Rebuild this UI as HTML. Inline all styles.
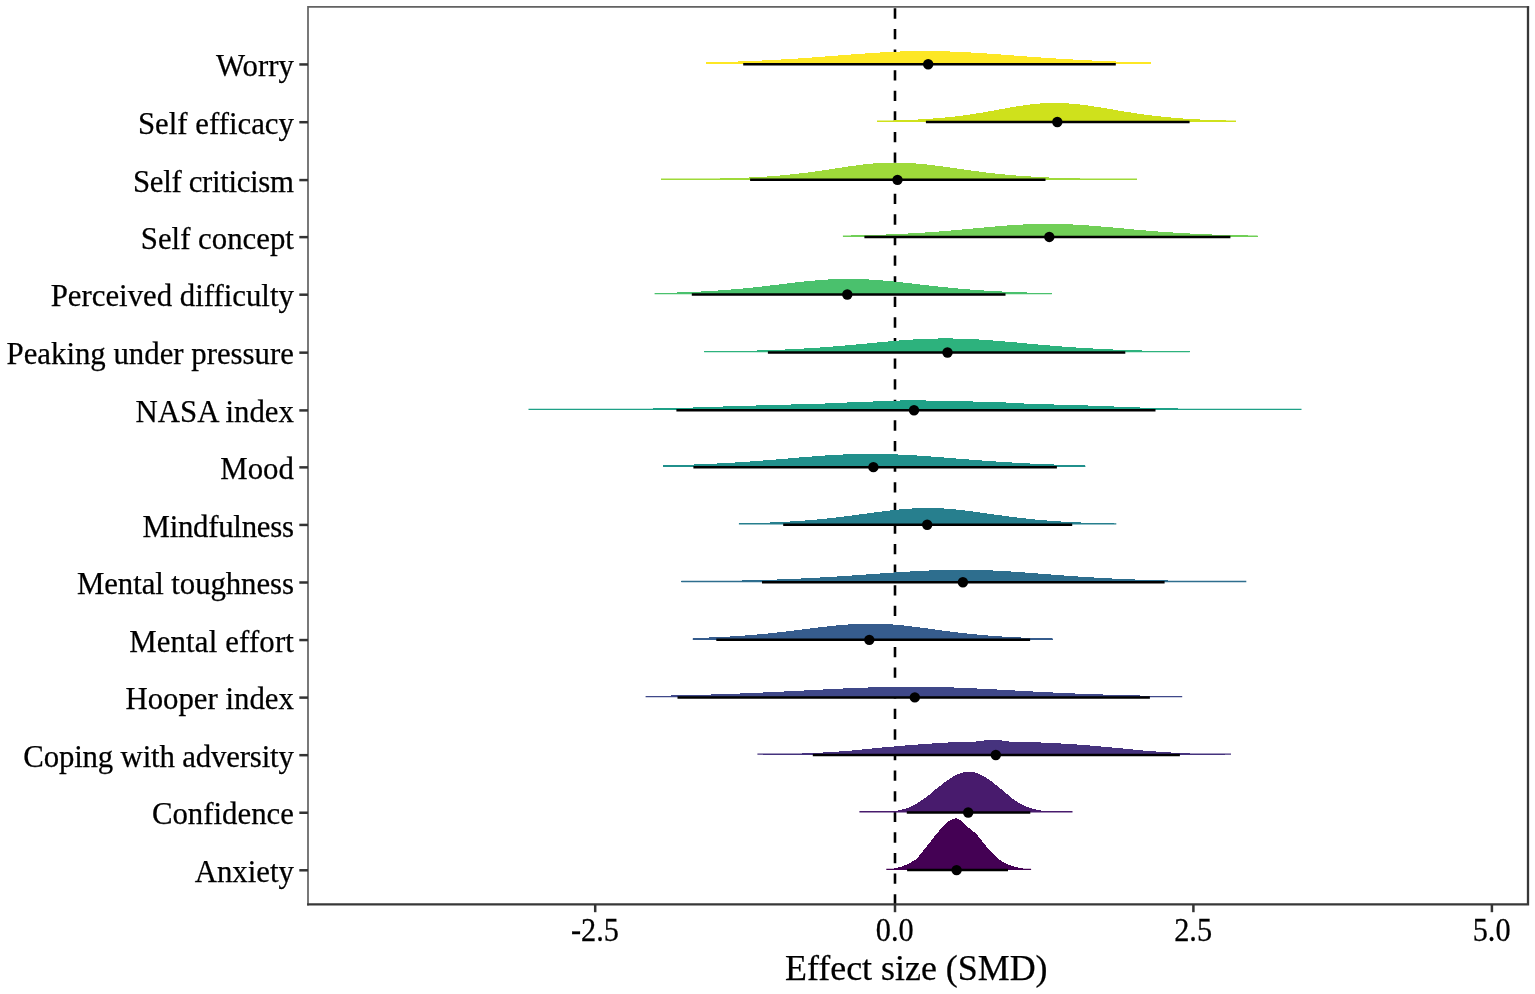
<!DOCTYPE html>
<html lang="en"><head><meta charset="utf-8"><title>Effect size (SMD)</title>
<style>html,body{margin:0;padding:0;background:#fff}body{width:1535px;height:994px;overflow:hidden}svg text{font-family:"Liberation Serif",serif}</style></head>
<body>
<svg width="1535" height="994" viewBox="0 0 1535 994" style="display:block">
<rect width="1535" height="994" fill="#fff"/>
<line x1="895.0" y1="904.45" x2="895.0" y2="6.95" stroke="#000" stroke-width="2.6" stroke-dasharray="10.3,10.3"/>
<g>
<path d="M706.3,63.95L706.3,62.43L708.3,62.39L710.3,62.34L712.3,62.29L714.3,62.24L716.3,62.19L718.3,62.13L720.3,62.08L722.3,62.02L724.3,61.96L726.3,61.90L728.3,61.84L730.3,61.78L732.3,61.71L734.3,61.65L736.3,61.58L738.4,61.51L740.4,61.43L742.4,61.36L744.4,61.28L746.4,61.21L748.4,61.13L750.4,61.04L752.4,60.96L754.4,60.87L756.4,60.79L758.4,60.70L760.4,60.60L762.4,60.51L764.4,60.41L766.4,60.31L768.4,60.21L770.4,60.11L772.4,60.01L774.4,59.90L776.4,59.79L778.4,59.68L780.4,59.56L782.4,59.45L784.4,59.33L786.4,59.21L788.4,59.09L790.4,58.96L792.4,58.83L794.4,58.71L796.4,58.58L798.4,58.44L800.4,58.31L802.5,58.17L804.5,58.03L806.5,57.89L808.5,57.75L810.5,57.61L812.5,57.46L814.5,57.32L816.5,57.17L818.5,57.02L820.5,56.87L822.5,56.72L824.5,56.56L826.5,56.41L828.5,56.26L830.5,56.10L832.5,55.94L834.5,55.79L836.5,55.63L838.5,55.48L840.5,55.32L842.5,55.16L844.5,55.01L846.5,54.85L848.5,54.70L850.5,54.54L852.5,54.39L854.5,54.24L856.5,54.09L858.5,53.94L860.5,53.79L862.5,53.64L864.5,53.50L866.6,53.36L868.6,53.22L870.6,53.09L872.6,52.95L874.6,52.82L876.6,52.70L878.6,52.57L880.6,52.45L882.6,52.34L884.6,52.23L886.6,52.12L888.6,52.02L890.6,51.92L892.6,51.82L894.6,51.73L896.6,51.65L898.6,51.57L900.6,51.49L902.6,51.43L904.6,51.36L906.6,51.31L908.6,51.25L910.6,51.21L912.6,51.17L914.6,51.13L916.6,51.10L918.6,51.08L920.6,51.06L922.6,51.05L924.6,51.05L926.6,51.05L928.6,51.06L930.7,51.07L932.7,51.09L934.7,51.12L936.7,51.15L938.7,51.18L940.7,51.23L942.7,51.27L944.7,51.33L946.7,51.38L948.7,51.45L950.7,51.52L952.7,51.59L954.7,51.67L956.7,51.75L958.7,51.84L960.7,51.93L962.7,52.03L964.7,52.13L966.7,52.24L968.7,52.35L970.7,52.46L972.7,52.58L974.7,52.70L976.7,52.82L978.7,52.95L980.7,53.07L982.7,53.21L984.7,53.34L986.7,53.48L988.7,53.62L990.7,53.76L992.8,53.90L994.8,54.05L996.8,54.19L998.8,54.34L1000.8,54.49L1002.8,54.64L1004.8,54.79L1006.8,54.94L1008.8,55.09L1010.8,55.24L1012.8,55.40L1014.8,55.55L1016.8,55.70L1018.8,55.85L1020.8,56.00L1022.8,56.16L1024.8,56.31L1026.8,56.46L1028.8,56.61L1030.8,56.75L1032.8,56.90L1034.8,57.05L1036.8,57.19L1038.8,57.34L1040.8,57.48L1042.8,57.62L1044.8,57.76L1046.8,57.90L1048.8,58.04L1050.8,58.17L1052.8,58.30L1054.8,58.43L1056.9,58.56L1058.9,58.69L1060.9,58.82L1062.9,58.94L1064.9,59.06L1066.9,59.18L1068.9,59.30L1070.9,59.41L1072.9,59.53L1074.9,59.64L1076.9,59.75L1078.9,59.86L1080.9,59.96L1082.9,60.07L1084.9,60.17L1086.9,60.27L1088.9,60.36L1090.9,60.46L1092.9,60.55L1094.9,60.64L1096.9,60.73L1098.9,60.82L1100.9,60.90L1102.9,60.99L1104.9,61.07L1106.9,61.15L1108.9,61.22L1110.9,61.30L1112.9,61.37L1114.9,61.44L1116.9,61.52L1118.9,61.58L1121.0,61.65L1123.0,61.72L1125.0,61.78L1127.0,61.84L1129.0,61.90L1131.0,61.96L1133.0,62.02L1135.0,62.07L1137.0,62.13L1139.0,62.18L1141.0,62.23L1143.0,62.28L1145.0,62.33L1147.0,62.38L1149.0,62.42L1151.0,62.47L1151.0,63.95Z" fill="#FDE725" shape-rendering="crispEdges"/>
<line x1="706.3"  y1="63.45" x2="1151" y2="63.45" stroke="#FDE725" stroke-width="1.3"/>
<path d="M877.0,121.71L877.0,120.91L879.0,120.87L881.0,120.82L883.0,120.78L885.0,120.73L887.0,120.68L889.0,120.63L891.0,120.58L893.0,120.52L895.1,120.46L897.1,120.39L899.1,120.33L901.1,120.26L903.1,120.18L905.1,120.10L907.1,120.02L909.1,119.94L911.1,119.85L913.1,119.75L915.1,119.65L917.1,119.55L919.1,119.44L921.1,119.33L923.1,119.21L925.1,119.09L927.1,118.96L929.1,118.82L931.2,118.68L933.2,118.53L935.2,118.38L937.2,118.22L939.2,118.05L941.2,117.87L943.2,117.69L945.2,117.50L947.2,117.30L949.2,117.10L951.2,116.88L953.2,116.66L955.2,116.43L957.2,116.20L959.2,115.95L961.2,115.70L963.2,115.43L965.2,115.16L967.3,114.89L969.3,114.60L971.3,114.30L973.3,114.00L975.3,113.69L977.3,113.38L979.3,113.05L981.3,112.72L983.3,112.38L985.3,112.04L987.3,111.69L989.3,111.34L991.3,110.98L993.3,110.62L995.3,110.26L997.3,109.89L999.3,109.52L1001.3,109.16L1003.4,108.79L1005.4,108.42L1007.4,108.06L1009.4,107.70L1011.4,107.35L1013.4,107.00L1015.4,106.66L1017.4,106.32L1019.4,106.00L1021.4,105.68L1023.4,105.38L1025.4,105.09L1027.4,104.82L1029.4,104.55L1031.4,104.31L1033.4,104.08L1035.4,103.87L1037.4,103.68L1039.5,103.51L1041.5,103.36L1043.5,103.23L1045.5,103.12L1047.5,103.03L1049.5,102.97L1051.5,102.93L1053.5,102.91L1055.5,102.92L1057.5,102.94L1059.5,102.99L1061.5,103.05L1063.5,103.14L1065.5,103.24L1067.5,103.36L1069.5,103.50L1071.5,103.66L1073.5,103.84L1075.6,104.03L1077.6,104.24L1079.6,104.46L1081.6,104.70L1083.6,104.95L1085.6,105.21L1087.6,105.49L1089.6,105.77L1091.6,106.07L1093.6,106.37L1095.6,106.69L1097.6,107.01L1099.6,107.33L1101.6,107.66L1103.6,108.00L1105.6,108.33L1107.6,108.67L1109.6,109.02L1111.7,109.36L1113.7,109.70L1115.7,110.04L1117.7,110.38L1119.7,110.72L1121.7,111.06L1123.7,111.39L1125.7,111.72L1127.7,112.04L1129.7,112.36L1131.7,112.68L1133.7,112.99L1135.7,113.29L1137.7,113.59L1139.7,113.88L1141.7,114.17L1143.7,114.44L1145.7,114.72L1147.8,114.98L1149.8,115.24L1151.8,115.49L1153.8,115.73L1155.8,115.97L1157.8,116.19L1159.8,116.42L1161.8,116.63L1163.8,116.84L1165.8,117.04L1167.8,117.23L1169.8,117.42L1171.8,117.60L1173.8,117.77L1175.8,117.94L1177.8,118.10L1179.8,118.26L1181.8,118.41L1183.9,118.55L1185.9,118.69L1187.9,118.82L1189.9,118.95L1191.9,119.07L1193.9,119.18L1195.9,119.30L1197.9,119.40L1199.9,119.51L1201.9,119.60L1203.9,119.70L1205.9,119.79L1207.9,119.88L1209.9,119.96L1211.9,120.04L1213.9,120.11L1215.9,120.18L1217.9,120.25L1220.0,120.32L1222.0,120.38L1224.0,120.44L1226.0,120.50L1228.0,120.55L1230.0,120.61L1232.0,120.66L1234.0,120.70L1236.0,120.75L1236.0,121.71Z" fill="#CFE11C" shape-rendering="crispEdges"/>
<line x1="877"  y1="121.21" x2="1236" y2="121.21" stroke="#CFE11C" stroke-width="1.3"/>
<path d="M661.0,179.57L661.0,179.29L663.0,179.27L665.0,179.26L667.0,179.25L669.0,179.23L671.0,179.22L673.0,179.20L675.0,179.18L677.0,179.17L679.0,179.15L681.0,179.13L683.0,179.11L685.0,179.09L687.0,179.06L689.0,179.04L691.0,179.02L693.0,178.99L695.0,178.96L697.0,178.94L699.0,178.91L701.0,178.88L703.0,178.84L705.0,178.81L707.0,178.77L709.0,178.74L711.0,178.70L713.0,178.66L715.0,178.61L717.0,178.57L719.0,178.52L721.0,178.47L723.0,178.42L725.0,178.37L727.0,178.31L729.0,178.25L731.0,178.19L733.0,178.12L735.0,178.06L737.0,177.99L739.0,177.91L741.0,177.84L743.0,177.75L745.0,177.67L747.0,177.58L749.0,177.49L751.0,177.40L753.0,177.30L755.0,177.19L757.0,177.08L759.0,176.97L761.0,176.85L763.0,176.73L765.0,176.60L767.0,176.47L769.0,176.33L771.0,176.19L773.0,176.04L775.0,175.88L777.0,175.72L779.0,175.56L781.0,175.38L783.0,175.21L785.0,175.02L787.0,174.83L789.0,174.63L791.0,174.43L793.0,174.22L795.0,174.01L797.0,173.78L799.0,173.56L801.0,173.32L803.0,173.08L805.0,172.83L807.0,172.58L809.0,172.32L811.0,172.06L813.0,171.79L815.0,171.51L817.0,171.23L819.0,170.94L821.0,170.66L823.0,170.36L825.0,170.07L827.0,169.77L829.0,169.46L831.0,169.16L833.0,168.85L835.0,168.55L837.0,168.24L839.0,167.93L841.0,167.63L843.0,167.33L845.0,167.02L847.0,166.73L849.0,166.43L851.0,166.14L853.0,165.86L855.0,165.58L857.0,165.31L859.0,165.05L861.0,164.80L863.0,164.56L865.0,164.33L867.0,164.11L869.0,163.90L871.0,163.70L873.0,163.52L875.0,163.35L877.0,163.20L879.0,163.06L881.0,162.94L883.0,162.84L885.0,162.75L887.0,162.68L889.0,162.63L891.0,162.59L893.0,162.57L895.0,162.57L897.0,162.59L899.0,162.62L901.0,162.67L903.0,162.73L905.0,162.80L907.0,162.90L909.0,163.00L911.0,163.12L913.0,163.26L915.0,163.40L917.0,163.56L919.0,163.74L921.0,163.92L923.0,164.12L925.0,164.32L927.0,164.54L929.0,164.77L931.0,165.00L933.0,165.24L935.0,165.49L937.0,165.75L939.0,166.01L941.0,166.28L943.0,166.55L945.0,166.83L947.0,167.11L949.0,167.39L951.0,167.67L953.0,167.96L955.0,168.24L957.0,168.53L959.0,168.82L961.0,169.10L963.0,169.39L965.0,169.67L967.0,169.95L969.0,170.23L971.0,170.51L973.0,170.78L975.0,171.05L977.0,171.31L979.0,171.57L981.0,171.83L983.0,172.08L985.0,172.33L987.0,172.57L989.0,172.81L991.0,173.04L993.0,173.27L995.0,173.49L997.0,173.70L999.0,173.91L1001.0,174.12L1003.0,174.32L1005.0,174.51L1007.0,174.70L1009.0,174.88L1011.0,175.06L1013.0,175.23L1015.0,175.39L1017.0,175.55L1019.0,175.71L1021.0,175.86L1023.0,176.01L1025.0,176.15L1027.0,176.28L1029.0,176.41L1031.0,176.54L1033.0,176.66L1035.0,176.78L1037.0,176.89L1039.0,177.00L1041.0,177.11L1043.0,177.21L1045.0,177.30L1047.0,177.40L1049.0,177.49L1051.0,177.57L1053.0,177.65L1055.0,177.73L1057.0,177.81L1059.0,177.88L1061.0,177.95L1063.0,178.02L1065.0,178.09L1067.0,178.15L1069.0,178.21L1071.0,178.26L1073.0,178.32L1075.0,178.37L1077.0,178.42L1079.0,178.47L1081.0,178.52L1083.0,178.56L1085.0,178.60L1087.0,178.64L1089.0,178.68L1091.0,178.72L1093.0,178.76L1095.0,178.79L1097.0,178.82L1099.0,178.85L1101.0,178.88L1103.0,178.91L1105.0,178.94L1107.0,178.97L1109.0,178.99L1111.0,179.01L1113.0,179.04L1115.0,179.06L1117.0,179.08L1119.0,179.10L1121.0,179.12L1123.0,179.14L1125.0,179.16L1127.0,179.17L1129.0,179.19L1131.0,179.21L1133.0,179.22L1135.0,179.23L1137.0,179.25L1137.0,179.57Z" fill="#9FDA3A" shape-rendering="crispEdges"/>
<line x1="661"  y1="179.07" x2="1137" y2="179.07" stroke="#9FDA3A" stroke-width="1.3"/>
<path d="M842.9,236.63L842.9,235.66L844.9,235.62L846.9,235.59L848.9,235.55L850.9,235.51L852.9,235.46L854.9,235.42L856.9,235.37L858.9,235.33L860.9,235.28L862.9,235.23L864.9,235.18L866.9,235.12L868.9,235.06L870.9,235.01L873.0,234.95L875.0,234.88L877.0,234.82L879.0,234.75L881.0,234.68L883.0,234.61L885.0,234.54L887.0,234.46L889.0,234.38L891.0,234.30L893.0,234.22L895.0,234.13L897.0,234.04L899.0,233.95L901.0,233.86L903.0,233.76L905.0,233.66L907.0,233.56L909.0,233.45L911.0,233.34L913.0,233.23L915.0,233.11L917.0,232.99L919.0,232.87L921.0,232.75L923.0,232.62L925.0,232.49L927.0,232.35L929.0,232.22L931.0,232.08L933.1,231.93L935.1,231.79L937.1,231.64L939.1,231.48L941.1,231.33L943.1,231.17L945.1,231.01L947.1,230.84L949.1,230.68L951.1,230.51L953.1,230.34L955.1,230.16L957.1,229.99L959.1,229.81L961.1,229.63L963.1,229.45L965.1,229.26L967.1,229.08L969.1,228.89L971.1,228.71L973.1,228.52L975.1,228.33L977.1,228.15L979.1,227.96L981.1,227.77L983.1,227.58L985.1,227.40L987.1,227.22L989.1,227.03L991.2,226.85L993.2,226.67L995.2,226.50L997.2,226.33L999.2,226.16L1001.2,225.99L1003.2,225.83L1005.2,225.67L1007.2,225.51L1009.2,225.37L1011.2,225.22L1013.2,225.08L1015.2,224.95L1017.2,224.83L1019.2,224.71L1021.2,224.59L1023.2,224.49L1025.2,224.39L1027.2,224.30L1029.2,224.21L1031.2,224.14L1033.2,224.07L1035.2,224.01L1037.2,223.96L1039.2,223.91L1041.2,223.88L1043.2,223.85L1045.2,223.84L1047.2,223.83L1049.2,223.83L1051.3,223.84L1053.3,223.86L1055.3,223.89L1057.3,223.92L1059.3,223.97L1061.3,224.02L1063.3,224.08L1065.3,224.15L1067.3,224.22L1069.3,224.31L1071.3,224.40L1073.3,224.50L1075.3,224.60L1077.3,224.72L1079.3,224.84L1081.3,224.96L1083.3,225.09L1085.3,225.23L1087.3,225.37L1089.3,225.52L1091.3,225.67L1093.3,225.83L1095.3,225.99L1097.3,226.15L1099.3,226.32L1101.3,226.49L1103.3,226.66L1105.3,226.84L1107.3,227.02L1109.3,227.20L1111.4,227.38L1113.4,227.57L1115.4,227.75L1117.4,227.93L1119.4,228.12L1121.4,228.30L1123.4,228.49L1125.4,228.68L1127.4,228.86L1129.4,229.04L1131.4,229.23L1133.4,229.41L1135.4,229.59L1137.4,229.77L1139.4,229.94L1141.4,230.12L1143.4,230.29L1145.4,230.46L1147.4,230.63L1149.4,230.79L1151.4,230.96L1153.4,231.12L1155.4,231.27L1157.4,231.43L1159.4,231.58L1161.4,231.73L1163.4,231.88L1165.4,232.02L1167.4,232.16L1169.5,232.30L1171.5,232.43L1173.5,232.56L1175.5,232.69L1177.5,232.82L1179.5,232.94L1181.5,233.06L1183.5,233.17L1185.5,233.28L1187.5,233.39L1189.5,233.50L1191.5,233.60L1193.5,233.71L1195.5,233.80L1197.5,233.90L1199.5,233.99L1201.5,234.08L1203.5,234.17L1205.5,234.25L1207.5,234.33L1209.5,234.41L1211.5,234.49L1213.5,234.56L1215.5,234.64L1217.5,234.71L1219.5,234.77L1221.5,234.84L1223.5,234.90L1225.5,234.96L1227.5,235.02L1229.6,235.08L1231.6,235.14L1233.6,235.19L1235.6,235.24L1237.6,235.29L1239.6,235.34L1241.6,235.38L1243.6,235.43L1245.6,235.47L1247.6,235.51L1249.6,235.55L1251.6,235.59L1253.6,235.63L1255.6,235.67L1257.6,235.70L1257.6,236.63Z" fill="#71CF57" shape-rendering="crispEdges"/>
<line x1="842.9"  y1="236.13" x2="1257.6" y2="236.13" stroke="#71CF57" stroke-width="1.3"/>
<path d="M654.6,294.19L654.6,293.12L656.6,293.08L658.6,293.03L660.6,292.98L662.6,292.93L664.6,292.88L666.6,292.83L668.6,292.77L670.6,292.71L672.7,292.65L674.7,292.59L676.7,292.53L678.7,292.46L680.7,292.39L682.7,292.31L684.7,292.24L686.7,292.16L688.7,292.08L690.7,291.99L692.7,291.91L694.7,291.82L696.7,291.72L698.7,291.62L700.7,291.52L702.7,291.42L704.8,291.31L706.8,291.20L708.8,291.08L710.8,290.96L712.8,290.84L714.8,290.71L716.8,290.58L718.8,290.44L720.8,290.30L722.8,290.16L724.8,290.01L726.8,289.86L728.8,289.70L730.8,289.54L732.8,289.37L734.8,289.20L736.8,289.03L738.9,288.85L740.9,288.66L742.9,288.47L744.9,288.28L746.9,288.08L748.9,287.88L750.9,287.68L752.9,287.47L754.9,287.26L756.9,287.04L758.9,286.82L760.9,286.60L762.9,286.37L764.9,286.14L766.9,285.91L768.9,285.68L771.0,285.44L773.0,285.20L775.0,284.96L777.0,284.72L779.0,284.48L781.0,284.23L783.0,283.99L785.0,283.75L787.0,283.51L789.0,283.27L791.0,283.03L793.0,282.79L795.0,282.55L797.0,282.32L799.0,282.10L801.0,281.87L803.0,281.65L805.1,281.44L807.1,281.23L809.1,281.02L811.1,280.83L813.1,280.64L815.1,280.46L817.1,280.28L819.1,280.12L821.1,279.96L823.1,279.81L825.1,279.67L827.1,279.55L829.1,279.43L831.1,279.32L833.1,279.23L835.1,279.14L837.2,279.07L839.2,279.01L841.2,278.96L843.2,278.93L845.2,278.90L847.2,278.89L849.2,278.89L851.2,278.90L853.2,278.93L855.2,278.96L857.2,279.01L859.2,279.07L861.2,279.13L863.2,279.21L865.2,279.30L867.2,279.40L869.2,279.51L871.3,279.63L873.3,279.76L875.3,279.89L877.3,280.04L879.3,280.19L881.3,280.36L883.3,280.53L885.3,280.70L887.3,280.89L889.3,281.08L891.3,281.27L893.3,281.47L895.3,281.68L897.3,281.89L899.3,282.10L901.3,282.32L903.4,282.54L905.4,282.77L907.4,282.99L909.4,283.22L911.4,283.45L913.4,283.68L915.4,283.91L917.4,284.14L919.4,284.38L921.4,284.61L923.4,284.84L925.4,285.07L927.4,285.30L929.4,285.52L931.4,285.75L933.4,285.97L935.4,286.19L937.5,286.41L939.5,286.63L941.5,286.84L943.5,287.05L945.5,287.26L947.5,287.46L949.5,287.66L951.5,287.86L953.5,288.05L955.5,288.24L957.5,288.42L959.5,288.60L961.5,288.78L963.5,288.95L965.5,289.12L967.5,289.29L969.6,289.45L971.6,289.61L973.6,289.76L975.6,289.91L977.6,290.05L979.6,290.19L981.6,290.33L983.6,290.46L985.6,290.59L987.6,290.72L989.6,290.84L991.6,290.96L993.6,291.07L995.6,291.18L997.6,291.29L999.6,291.39L1001.6,291.50L1003.7,291.59L1005.7,291.69L1007.7,291.78L1009.7,291.87L1011.7,291.95L1013.7,292.03L1015.7,292.11L1017.7,292.19L1019.7,292.26L1021.7,292.34L1023.7,292.40L1025.7,292.47L1027.7,292.54L1029.7,292.60L1031.7,292.66L1033.7,292.71L1035.8,292.77L1037.8,292.82L1039.8,292.87L1041.8,292.92L1043.8,292.97L1045.8,293.02L1047.8,293.06L1049.8,293.10L1051.8,293.15L1051.8,294.19Z" fill="#4AC16D" shape-rendering="crispEdges"/>
<line x1="654.6"  y1="293.69" x2="1051.8" y2="293.69" stroke="#4AC16D" stroke-width="1.3"/>
<path d="M704.2,352.15L704.2,351.51L706.2,351.48L708.2,351.46L710.2,351.43L712.2,351.41L714.2,351.38L716.2,351.35L718.2,351.32L720.2,351.29L722.3,351.26L724.3,351.23L726.3,351.20L728.3,351.16L730.3,351.13L732.3,351.09L734.3,351.05L736.3,351.01L738.3,350.97L740.3,350.93L742.3,350.88L744.3,350.84L746.3,350.79L748.3,350.74L750.3,350.69L752.3,350.64L754.4,350.58L756.4,350.53L758.4,350.47L760.4,350.41L762.4,350.35L764.4,350.28L766.4,350.22L768.4,350.15L770.4,350.08L772.4,350.00L774.4,349.93L776.4,349.85L778.4,349.77L780.4,349.69L782.4,349.60L784.4,349.52L786.5,349.43L788.5,349.33L790.5,349.24L792.5,349.14L794.5,349.04L796.5,348.93L798.5,348.83L800.5,348.72L802.5,348.60L804.5,348.49L806.5,348.37L808.5,348.25L810.5,348.12L812.5,347.99L814.5,347.86L816.5,347.73L818.6,347.59L820.6,347.45L822.6,347.30L824.6,347.16L826.6,347.01L828.6,346.85L830.6,346.70L832.6,346.54L834.6,346.38L836.6,346.21L838.6,346.05L840.6,345.88L842.6,345.70L844.6,345.53L846.6,345.35L848.6,345.17L850.7,344.99L852.7,344.81L854.7,344.62L856.7,344.44L858.7,344.25L860.7,344.06L862.7,343.87L864.7,343.68L866.7,343.49L868.7,343.29L870.7,343.10L872.7,342.91L874.7,342.72L876.7,342.52L878.7,342.33L880.7,342.14L882.8,341.96L884.8,341.77L886.8,341.59L888.8,341.40L890.8,341.22L892.8,341.05L894.8,340.87L896.8,340.71L898.8,340.54L900.8,340.38L902.8,340.22L904.8,340.07L906.8,339.92L908.8,339.78L910.8,339.65L912.8,339.52L914.9,339.39L916.9,339.28L918.9,339.17L920.9,339.06L922.9,338.97L924.9,338.88L926.9,338.80L928.9,338.73L930.9,338.66L932.9,338.61L934.9,338.56L936.9,338.52L938.9,338.49L940.9,338.47L942.9,338.45L944.9,338.45L947.0,338.45L949.0,338.47L951.0,338.48L953.0,338.51L955.0,338.55L957.0,338.59L959.0,338.64L961.0,338.70L963.0,338.76L965.0,338.84L967.0,338.92L969.0,339.00L971.0,339.10L973.0,339.20L975.0,339.30L977.0,339.42L979.0,339.54L981.1,339.66L983.1,339.79L985.1,339.92L987.1,340.06L989.1,340.21L991.1,340.36L993.1,340.51L995.1,340.67L997.1,340.83L999.1,340.99L1001.1,341.16L1003.1,341.33L1005.1,341.50L1007.1,341.68L1009.1,341.85L1011.1,342.03L1013.2,342.21L1015.2,342.39L1017.2,342.57L1019.2,342.76L1021.2,342.94L1023.2,343.12L1025.2,343.31L1027.2,343.49L1029.2,343.67L1031.2,343.86L1033.2,344.04L1035.2,344.22L1037.2,344.40L1039.2,344.58L1041.2,344.75L1043.2,344.93L1045.3,345.10L1047.3,345.27L1049.3,345.44L1051.3,345.61L1053.3,345.78L1055.3,345.94L1057.3,346.10L1059.3,346.26L1061.3,346.42L1063.3,346.57L1065.3,346.72L1067.3,346.87L1069.3,347.02L1071.3,347.16L1073.3,347.30L1075.3,347.44L1077.4,347.57L1079.4,347.70L1081.4,347.83L1083.4,347.96L1085.4,348.08L1087.4,348.20L1089.4,348.32L1091.4,348.43L1093.4,348.54L1095.4,348.65L1097.4,348.76L1099.4,348.86L1101.4,348.97L1103.4,349.06L1105.4,349.16L1107.4,349.25L1109.5,349.34L1111.5,349.43L1113.5,349.52L1115.5,349.60L1117.5,349.68L1119.5,349.76L1121.5,349.84L1123.5,349.91L1125.5,349.99L1127.5,350.06L1129.5,350.12L1131.5,350.19L1133.5,350.25L1135.5,350.32L1137.5,350.38L1139.5,350.43L1141.6,350.49L1143.6,350.54L1145.6,350.60L1147.6,350.65L1149.6,350.70L1151.6,350.75L1153.6,350.79L1155.6,350.84L1157.6,350.88L1159.6,350.92L1161.6,350.97L1163.6,351.00L1165.6,351.04L1167.6,351.08L1169.6,351.12L1171.6,351.15L1173.7,351.18L1175.7,351.22L1177.7,351.25L1179.7,351.28L1181.7,351.31L1183.7,351.33L1185.7,351.36L1187.7,351.39L1189.7,351.41L1189.7,352.15Z" fill="#2DB27D" shape-rendering="crispEdges"/>
<line x1="704.2"  y1="351.65" x2="1189.7" y2="351.65" stroke="#2DB27D" stroke-width="1.3"/>
<path d="M528.5,409.91L528.5,409.81L530.5,409.81L532.5,409.80L534.5,409.79L536.5,409.79L538.5,409.78L540.5,409.77L542.5,409.76L544.5,409.75L546.5,409.74L548.5,409.73L550.5,409.72L552.5,409.71L554.5,409.70L556.5,409.68L558.5,409.67L560.5,409.66L562.5,409.64L564.5,409.63L566.5,409.61L568.6,409.60L570.6,409.58L572.6,409.56L574.6,409.55L576.6,409.53L578.6,409.51L580.6,409.49L582.6,409.48L584.6,409.46L586.6,409.44L588.6,409.42L590.6,409.40L592.6,409.38L594.6,409.36L596.6,409.34L598.6,409.32L600.6,409.30L602.6,409.28L604.6,409.26L606.6,409.24L608.6,409.22L610.6,409.19L612.6,409.17L614.6,409.14L616.6,409.12L618.6,409.09L620.6,409.06L622.6,409.03L624.6,409.00L626.6,408.97L628.6,408.94L630.6,408.91L632.6,408.88L634.6,408.84L636.6,408.81L638.6,408.77L640.6,408.74L642.6,408.70L644.7,408.67L646.7,408.63L648.7,408.59L650.7,408.55L652.7,408.51L654.7,408.47L656.7,408.43L658.7,408.39L660.7,408.35L662.7,408.31L664.7,408.26L666.7,408.22L668.7,408.18L670.7,408.13L672.7,408.09L674.7,408.04L676.7,407.99L678.7,407.94L680.7,407.89L682.7,407.84L684.7,407.78L686.7,407.72L688.7,407.65L690.7,407.59L692.7,407.52L694.7,407.45L696.7,407.38L698.7,407.31L700.7,407.24L702.7,407.17L704.7,407.10L706.7,407.03L708.7,406.97L710.7,406.90L712.7,406.83L714.7,406.77L716.7,406.70L718.7,406.64L720.7,406.58L722.8,406.52L724.8,406.45L726.8,406.39L728.8,406.33L730.8,406.27L732.8,406.21L734.8,406.15L736.8,406.09L738.8,406.03L740.8,405.96L742.8,405.90L744.8,405.84L746.8,405.78L748.8,405.72L750.8,405.66L752.8,405.60L754.8,405.54L756.8,405.48L758.8,405.43L760.8,405.37L762.8,405.31L764.8,405.25L766.8,405.19L768.8,405.13L770.8,405.07L772.8,405.02L774.8,404.96L776.8,404.90L778.8,404.85L780.8,404.79L782.8,404.74L784.8,404.69L786.8,404.63L788.8,404.58L790.8,404.53L792.8,404.48L794.8,404.43L796.8,404.37L798.8,404.32L800.9,404.27L802.9,404.21L804.9,404.16L806.9,404.10L808.9,404.04L810.9,403.99L812.9,403.92L814.9,403.86L816.9,403.80L818.9,403.73L820.9,403.66L822.9,403.59L824.9,403.51L826.9,403.43L828.9,403.35L830.9,403.26L832.9,403.18L834.9,403.09L836.9,403.00L838.9,402.90L840.9,402.81L842.9,402.72L844.9,402.63L846.9,402.53L848.9,402.44L850.9,402.35L852.9,402.26L854.9,402.18L856.9,402.09L858.9,402.01L860.9,401.93L862.9,401.86L864.9,401.79L866.9,401.72L868.9,401.65L870.9,401.58L872.9,401.51L874.9,401.45L877.0,401.38L879.0,401.31L881.0,401.25L883.0,401.18L885.0,401.11L887.0,401.04L889.0,400.96L891.0,400.89L893.0,400.81L895.0,400.73L897.0,400.65L899.0,400.56L901.0,400.46L903.0,400.33L905.0,400.18L907.0,400.03L909.0,399.89L911.0,399.78L913.0,399.72L915.0,399.72L917.0,399.81L919.0,399.97L921.0,400.15L923.0,400.32L925.0,400.46L927.0,400.55L929.0,400.62L931.0,400.68L933.0,400.74L935.0,400.80L937.0,400.86L939.0,400.91L941.0,400.95L943.0,401.00L945.0,401.04L947.0,401.08L949.0,401.12L951.0,401.15L953.0,401.19L955.1,401.22L957.1,401.25L959.1,401.28L961.1,401.32L963.1,401.35L965.1,401.38L967.1,401.41L969.1,401.44L971.1,401.47L973.1,401.50L975.1,401.54L977.1,401.58L979.1,401.61L981.1,401.65L983.1,401.70L985.1,401.74L987.1,401.79L989.1,401.84L991.1,401.89L993.1,401.95L995.1,402.01L997.1,402.08L999.1,402.16L1001.1,402.25L1003.1,402.35L1005.1,402.45L1007.1,402.56L1009.1,402.67L1011.1,402.79L1013.1,402.90L1015.1,403.02L1017.1,403.13L1019.1,403.25L1021.1,403.35L1023.1,403.46L1025.1,403.55L1027.1,403.64L1029.1,403.72L1031.2,403.80L1033.2,403.87L1035.2,403.94L1037.2,404.01L1039.2,404.08L1041.2,404.14L1043.2,404.20L1045.2,404.26L1047.2,404.32L1049.2,404.38L1051.2,404.44L1053.2,404.49L1055.2,404.55L1057.2,404.60L1059.2,404.66L1061.2,404.71L1063.2,404.77L1065.2,404.82L1067.2,404.87L1069.2,404.93L1071.2,404.99L1073.2,405.04L1075.2,405.10L1077.2,405.16L1079.2,405.22L1081.2,405.29L1083.2,405.35L1085.2,405.42L1087.2,405.49L1089.2,405.56L1091.2,405.63L1093.2,405.70L1095.2,405.77L1097.2,405.85L1099.2,405.92L1101.2,406.00L1103.2,406.08L1105.2,406.16L1107.2,406.23L1109.3,406.31L1111.3,406.39L1113.3,406.47L1115.3,406.54L1117.3,406.62L1119.3,406.70L1121.3,406.77L1123.3,406.85L1125.3,406.92L1127.3,406.99L1129.3,407.07L1131.3,407.15L1133.3,407.23L1135.3,407.30L1137.3,407.38L1139.3,407.46L1141.3,407.54L1143.3,407.61L1145.3,407.68L1147.3,407.75L1149.3,407.82L1151.3,407.88L1153.3,407.94L1155.3,407.99L1157.3,408.04L1159.3,408.09L1161.3,408.14L1163.3,408.19L1165.3,408.23L1167.3,408.28L1169.3,408.32L1171.3,408.37L1173.3,408.41L1175.3,408.45L1177.3,408.49L1179.3,408.54L1181.3,408.58L1183.3,408.62L1185.3,408.65L1187.4,408.69L1189.4,408.73L1191.4,408.77L1193.4,408.80L1195.4,408.84L1197.4,408.87L1199.4,408.90L1201.4,408.94L1203.4,408.97L1205.4,409.00L1207.4,409.03L1209.4,409.06L1211.4,409.09L1213.4,409.11L1215.4,409.14L1217.4,409.17L1219.4,409.19L1221.4,409.22L1223.4,409.24L1225.4,409.26L1227.4,409.28L1229.4,409.30L1231.4,409.32L1233.4,409.34L1235.4,409.36L1237.4,409.38L1239.4,409.40L1241.4,409.42L1243.4,409.44L1245.4,409.46L1247.4,409.48L1249.4,409.50L1251.4,409.51L1253.4,409.53L1255.4,409.55L1257.4,409.57L1259.4,409.58L1261.4,409.60L1263.5,409.62L1265.5,409.63L1267.5,409.65L1269.5,409.66L1271.5,409.67L1273.5,409.69L1275.5,409.70L1277.5,409.71L1279.5,409.72L1281.5,409.74L1283.5,409.75L1285.5,409.76L1287.5,409.77L1289.5,409.77L1291.5,409.78L1293.5,409.79L1295.5,409.80L1297.5,409.80L1299.5,409.81L1301.5,409.81L1301.5,409.91Z" fill="#1FA187" shape-rendering="crispEdges"/>
<line x1="528.5"  y1="409.41" x2="1301.5" y2="409.41" stroke="#1FA187" stroke-width="1.3"/>
<path d="M663.2,466.87L663.2,465.44L665.2,465.39L667.2,465.34L669.2,465.29L671.2,465.24L673.2,465.18L675.2,465.13L677.2,465.07L679.2,465.01L681.2,464.95L683.2,464.89L685.2,464.82L687.2,464.75L689.2,464.69L691.2,464.62L693.2,464.54L695.2,464.47L697.2,464.39L699.2,464.31L701.2,464.23L703.2,464.15L705.2,464.06L707.2,463.97L709.2,463.88L711.2,463.79L713.2,463.70L715.2,463.60L717.2,463.50L719.2,463.40L721.2,463.29L723.2,463.18L725.2,463.07L727.2,462.96L729.2,462.85L731.2,462.73L733.2,462.61L735.2,462.49L737.2,462.36L739.2,462.23L741.2,462.10L743.2,461.97L745.2,461.84L747.2,461.70L749.2,461.56L751.2,461.42L753.2,461.27L755.2,461.12L757.2,460.97L759.2,460.82L761.2,460.67L763.2,460.52L765.2,460.36L767.2,460.20L769.3,460.04L771.3,459.88L773.3,459.71L775.3,459.55L777.3,459.38L779.3,459.22L781.3,459.05L783.3,458.88L785.3,458.71L787.3,458.54L789.3,458.37L791.3,458.20L793.3,458.03L795.3,457.86L797.3,457.69L799.3,457.53L801.3,457.36L803.3,457.19L805.3,457.03L807.3,456.87L809.3,456.70L811.3,456.55L813.3,456.39L815.3,456.24L817.3,456.08L819.3,455.94L821.3,455.79L823.3,455.65L825.3,455.51L827.3,455.38L829.3,455.25L831.3,455.13L833.3,455.01L835.3,454.89L837.3,454.78L839.3,454.68L841.3,454.58L843.3,454.49L845.3,454.40L847.3,454.32L849.3,454.25L851.3,454.18L853.3,454.12L855.3,454.06L857.3,454.01L859.3,453.97L861.3,453.94L863.3,453.91L865.3,453.89L867.3,453.88L869.3,453.87L871.3,453.87L873.3,453.88L875.3,453.89L877.3,453.91L879.3,453.94L881.3,453.97L883.3,454.01L885.3,454.06L887.3,454.11L889.3,454.17L891.3,454.23L893.3,454.30L895.3,454.38L897.3,454.46L899.3,454.55L901.3,454.64L903.3,454.73L905.3,454.84L907.3,454.94L909.3,455.05L911.3,455.17L913.3,455.29L915.3,455.41L917.3,455.54L919.3,455.67L921.3,455.81L923.3,455.95L925.3,456.09L927.3,456.23L929.3,456.38L931.3,456.53L933.3,456.68L935.3,456.83L937.3,456.99L939.3,457.14L941.3,457.30L943.3,457.46L945.3,457.62L947.3,457.78L949.3,457.94L951.3,458.10L953.3,458.26L955.3,458.43L957.3,458.59L959.3,458.75L961.3,458.91L963.3,459.07L965.3,459.23L967.3,459.39L969.3,459.55L971.3,459.71L973.3,459.86L975.3,460.02L977.3,460.17L979.3,460.32L981.4,460.47L983.4,460.62L985.4,460.77L987.4,460.91L989.4,461.06L991.4,461.20L993.4,461.34L995.4,461.47L997.4,461.61L999.4,461.74L1001.4,461.87L1003.4,462.00L1005.4,462.13L1007.4,462.25L1009.4,462.37L1011.4,462.49L1013.4,462.61L1015.4,462.72L1017.4,462.83L1019.4,462.94L1021.4,463.05L1023.4,463.16L1025.4,463.26L1027.4,463.36L1029.4,463.46L1031.4,463.56L1033.4,463.65L1035.4,463.74L1037.4,463.83L1039.4,463.92L1041.4,464.00L1043.4,464.09L1045.4,464.17L1047.4,464.25L1049.4,464.32L1051.4,464.40L1053.4,464.47L1055.4,464.54L1057.4,464.61L1059.4,464.68L1061.4,464.75L1063.4,464.81L1065.4,464.87L1067.4,464.93L1069.4,464.99L1071.4,465.05L1073.4,465.10L1075.4,465.16L1077.4,465.21L1079.4,465.26L1081.4,465.31L1083.4,465.36L1085.4,465.40L1085.4,466.87Z" fill="#21908C" shape-rendering="crispEdges"/>
<line x1="663.2"  y1="466.37" x2="1085.4" y2="466.37" stroke="#21908C" stroke-width="1.3"/>
<path d="M738.9,524.43L738.9,523.44L740.9,523.40L742.9,523.35L744.9,523.30L746.9,523.25L748.9,523.20L750.9,523.15L753.0,523.09L755.0,523.03L757.0,522.97L759.0,522.91L761.0,522.84L763.0,522.77L765.0,522.70L767.0,522.63L769.0,522.55L771.0,522.47L773.0,522.39L775.0,522.30L777.0,522.21L779.0,522.11L781.1,522.01L783.1,521.91L785.1,521.80L787.1,521.69L789.1,521.58L791.1,521.46L793.1,521.34L795.1,521.21L797.1,521.08L799.1,520.94L801.1,520.80L803.1,520.65L805.1,520.50L807.2,520.34L809.2,520.18L811.2,520.01L813.2,519.84L815.2,519.66L817.2,519.48L819.2,519.29L821.2,519.10L823.2,518.90L825.2,518.69L827.2,518.48L829.2,518.27L831.2,518.05L833.2,517.82L835.3,517.59L837.3,517.36L839.3,517.12L841.3,516.87L843.3,516.63L845.3,516.37L847.3,516.12L849.3,515.86L851.3,515.59L853.3,515.33L855.3,515.06L857.3,514.79L859.3,514.51L861.4,514.24L863.4,513.96L865.4,513.69L867.4,513.41L869.4,513.13L871.4,512.86L873.4,512.59L875.4,512.31L877.4,512.05L879.4,511.78L881.4,511.52L883.4,511.26L885.4,511.01L887.5,510.77L889.5,510.53L891.5,510.30L893.5,510.08L895.5,509.86L897.5,509.66L899.5,509.46L901.5,509.28L903.5,509.10L905.5,508.94L907.5,508.79L909.5,508.65L911.5,508.53L913.5,508.41L915.6,508.32L917.6,508.23L919.6,508.16L921.6,508.11L923.6,508.07L925.6,508.04L927.6,508.03L929.6,508.04L931.6,508.06L933.6,508.09L935.6,508.15L937.6,508.21L939.6,508.30L941.7,508.40L943.7,508.51L945.7,508.64L947.7,508.78L949.7,508.94L951.7,509.10L953.7,509.29L955.7,509.48L957.7,509.68L959.7,509.89L961.7,510.12L963.7,510.35L965.7,510.59L967.7,510.84L969.8,511.10L971.8,511.36L973.8,511.62L975.8,511.90L977.8,512.17L979.8,512.45L981.8,512.73L983.8,513.02L985.8,513.30L987.8,513.59L989.8,513.87L991.8,514.16L993.8,514.44L995.9,514.73L997.9,515.01L999.9,515.29L1001.9,515.56L1003.9,515.84L1005.9,516.11L1007.9,516.37L1009.9,516.63L1011.9,516.89L1013.9,517.14L1015.9,517.39L1017.9,517.63L1019.9,517.87L1021.9,518.10L1024.0,518.33L1026.0,518.55L1028.0,518.76L1030.0,518.97L1032.0,519.18L1034.0,519.38L1036.0,519.57L1038.0,519.75L1040.0,519.94L1042.0,520.11L1044.0,520.28L1046.0,520.44L1048.0,520.60L1050.1,520.76L1052.1,520.90L1054.1,521.05L1056.1,521.19L1058.1,521.32L1060.1,521.45L1062.1,521.57L1064.1,521.69L1066.1,521.80L1068.1,521.91L1070.1,522.02L1072.1,522.12L1074.1,522.22L1076.2,522.31L1078.2,522.40L1080.2,522.49L1082.2,522.57L1084.2,522.65L1086.2,522.73L1088.2,522.80L1090.2,522.87L1092.2,522.94L1094.2,523.00L1096.2,523.06L1098.2,523.12L1100.2,523.18L1102.2,523.23L1104.3,523.29L1106.3,523.34L1108.3,523.38L1110.3,523.43L1112.3,523.47L1114.3,523.51L1116.3,523.55L1116.3,524.43Z" fill="#277F8E" shape-rendering="crispEdges"/>
<line x1="738.9"  y1="523.93" x2="1116.3" y2="523.93" stroke="#277F8E" stroke-width="1.3"/>
<path d="M681.4,581.99L681.4,581.38L683.4,581.37L685.4,581.35L687.4,581.33L689.4,581.31L691.4,581.29L693.4,581.26L695.4,581.24L697.4,581.22L699.4,581.20L701.4,581.17L703.4,581.15L705.4,581.12L707.4,581.09L709.4,581.07L711.4,581.04L713.5,581.01L715.5,580.98L717.5,580.95L719.5,580.92L721.5,580.88L723.5,580.85L725.5,580.81L727.5,580.78L729.5,580.74L731.5,580.70L733.5,580.67L735.5,580.63L737.5,580.58L739.5,580.54L741.5,580.50L743.5,580.45L745.5,580.41L747.5,580.36L749.5,580.31L751.5,580.26L753.5,580.21L755.5,580.16L757.5,580.10L759.5,580.05L761.5,579.99L763.5,579.93L765.5,579.87L767.5,579.81L769.5,579.74L771.5,579.68L773.5,579.61L775.5,579.54L777.6,579.47L779.6,579.40L781.6,579.32L783.6,579.25L785.6,579.17L787.6,579.09L789.6,579.01L791.6,578.93L793.6,578.84L795.6,578.76L797.6,578.67L799.6,578.58L801.6,578.48L803.6,578.39L805.6,578.29L807.6,578.19L809.6,578.09L811.6,577.99L813.6,577.88L815.6,577.78L817.6,577.67L819.6,577.56L821.6,577.45L823.6,577.33L825.6,577.21L827.6,577.10L829.6,576.98L831.6,576.85L833.6,576.73L835.6,576.61L837.6,576.48L839.7,576.35L841.7,576.22L843.7,576.09L845.7,575.95L847.7,575.82L849.7,575.68L851.7,575.55L853.7,575.41L855.7,575.27L857.7,575.13L859.7,574.98L861.7,574.84L863.7,574.70L865.7,574.55L867.7,574.41L869.7,574.27L871.7,574.12L873.7,573.98L875.7,573.83L877.7,573.69L879.7,573.54L881.7,573.40L883.7,573.25L885.7,573.11L887.7,572.97L889.7,572.83L891.7,572.69L893.7,572.55L895.7,572.41L897.7,572.28L899.7,572.14L901.8,572.01L903.8,571.88L905.8,571.76L907.8,571.63L909.8,571.51L911.8,571.39L913.8,571.28L915.8,571.17L917.8,571.06L919.8,570.95L921.8,570.85L923.8,570.75L925.8,570.66L927.8,570.57L929.8,570.48L931.8,570.40L933.8,570.33L935.8,570.25L937.8,570.19L939.8,570.13L941.8,570.07L943.8,570.02L945.8,569.97L947.8,569.93L949.8,569.89L951.8,569.86L953.8,569.84L955.8,569.82L957.8,569.80L959.8,569.79L961.8,569.79L963.8,569.79L965.9,569.80L967.9,569.82L969.9,569.84L971.9,569.87L973.9,569.90L975.9,569.94L977.9,569.99L979.9,570.04L981.9,570.10L983.9,570.16L985.9,570.23L987.9,570.31L989.9,570.39L991.9,570.48L993.9,570.57L995.9,570.66L997.9,570.77L999.9,570.87L1001.9,570.98L1003.9,571.09L1005.9,571.21L1007.9,571.33L1009.9,571.46L1011.9,571.59L1013.9,571.72L1015.9,571.86L1017.9,571.99L1019.9,572.13L1021.9,572.28L1023.9,572.42L1025.9,572.57L1028.0,572.72L1030.0,572.87L1032.0,573.02L1034.0,573.17L1036.0,573.33L1038.0,573.48L1040.0,573.63L1042.0,573.79L1044.0,573.95L1046.0,574.10L1048.0,574.26L1050.0,574.41L1052.0,574.57L1054.0,574.72L1056.0,574.87L1058.0,575.03L1060.0,575.18L1062.0,575.33L1064.0,575.48L1066.0,575.63L1068.0,575.77L1070.0,575.92L1072.0,576.06L1074.0,576.20L1076.0,576.34L1078.0,576.48L1080.0,576.62L1082.0,576.75L1084.0,576.88L1086.0,577.01L1088.0,577.14L1090.1,577.27L1092.1,577.39L1094.1,577.51L1096.1,577.63L1098.1,577.75L1100.1,577.86L1102.1,577.98L1104.1,578.09L1106.1,578.19L1108.1,578.30L1110.1,578.40L1112.1,578.50L1114.1,578.60L1116.1,578.70L1118.1,578.79L1120.1,578.89L1122.1,578.98L1124.1,579.06L1126.1,579.15L1128.1,579.23L1130.1,579.32L1132.1,579.40L1134.1,579.47L1136.1,579.55L1138.1,579.62L1140.1,579.69L1142.1,579.76L1144.1,579.83L1146.1,579.90L1148.1,579.96L1150.1,580.02L1152.2,580.08L1154.2,580.14L1156.2,580.20L1158.2,580.25L1160.2,580.31L1162.2,580.36L1164.2,580.41L1166.2,580.46L1168.2,580.51L1170.2,580.56L1172.2,580.60L1174.2,580.64L1176.2,580.69L1178.2,580.73L1180.2,580.77L1182.2,580.81L1184.2,580.84L1186.2,580.88L1188.2,580.92L1190.2,580.95L1192.2,580.98L1194.2,581.01L1196.2,581.05L1198.2,581.08L1200.2,581.10L1202.2,581.13L1204.2,581.16L1206.2,581.19L1208.2,581.21L1210.2,581.24L1212.2,581.26L1214.2,581.28L1216.3,581.31L1218.3,581.33L1220.3,581.35L1222.3,581.37L1224.3,581.39L1226.3,581.41L1228.3,581.43L1230.3,581.44L1232.3,581.46L1234.3,581.48L1236.3,581.50L1238.3,581.51L1240.3,581.53L1242.3,581.54L1244.3,581.55L1246.3,581.57L1246.3,581.99Z" fill="#2E6E8E" shape-rendering="crispEdges"/>
<line x1="681.4"  y1="581.49" x2="1246.3" y2="581.49" stroke="#2E6E8E" stroke-width="1.3"/>
<path d="M692.7,639.55L692.7,638.09L694.7,638.03L696.7,637.97L698.7,637.90L700.7,637.83L702.7,637.76L704.7,637.69L706.7,637.61L708.7,637.54L710.7,637.45L712.7,637.37L714.7,637.28L716.7,637.19L718.7,637.09L720.7,637.00L722.7,636.89L724.7,636.79L726.7,636.68L728.7,636.57L730.7,636.45L732.7,636.33L734.7,636.21L736.7,636.08L738.7,635.94L740.7,635.81L742.7,635.66L744.7,635.52L746.7,635.37L748.7,635.21L750.7,635.05L752.8,634.89L754.8,634.72L756.8,634.54L758.8,634.37L760.8,634.18L762.8,634.00L764.8,633.80L766.8,633.61L768.8,633.41L770.8,633.20L772.8,632.99L774.8,632.77L776.8,632.56L778.8,632.33L780.8,632.11L782.8,631.88L784.8,631.64L786.8,631.41L788.8,631.17L790.8,630.92L792.8,630.68L794.8,630.43L796.8,630.18L798.8,629.93L800.8,629.68L802.8,629.42L804.8,629.17L806.8,628.92L808.8,628.66L810.8,628.41L812.8,628.16L814.8,627.91L816.8,627.66L818.8,627.42L820.8,627.18L822.8,626.94L824.8,626.70L826.8,626.48L828.8,626.25L830.8,626.03L832.8,625.82L834.8,625.62L836.8,625.42L838.8,625.23L840.8,625.05L842.8,624.88L844.8,624.72L846.8,624.57L848.8,624.43L850.8,624.30L852.8,624.18L854.8,624.07L856.8,623.97L858.8,623.89L860.8,623.82L862.8,623.76L864.8,623.71L866.8,623.68L868.8,623.66L870.8,623.65L872.9,623.66L874.9,623.68L876.9,623.71L878.9,623.77L880.9,623.83L882.9,623.91L884.9,624.01L886.9,624.12L888.9,624.24L890.9,624.38L892.9,624.52L894.9,624.68L896.9,624.86L898.9,625.04L900.9,625.23L902.9,625.44L904.9,625.65L906.9,625.87L908.9,626.10L910.9,626.33L912.9,626.58L914.9,626.83L916.9,627.08L918.9,627.34L920.9,627.60L922.9,627.87L924.9,628.14L926.9,628.41L928.9,628.68L930.9,628.95L932.9,629.23L934.9,629.50L936.9,629.77L938.9,630.04L940.9,630.31L942.9,630.58L944.9,630.84L946.9,631.11L948.9,631.37L950.9,631.62L952.9,631.87L954.9,632.12L956.9,632.36L958.9,632.60L960.9,632.84L962.9,633.07L964.9,633.29L966.9,633.51L968.9,633.72L970.9,633.93L972.9,634.14L974.9,634.34L976.9,634.53L978.9,634.72L980.9,634.90L982.9,635.07L984.9,635.24L986.9,635.41L988.9,635.57L990.9,635.73L993.0,635.88L995.0,636.02L997.0,636.16L999.0,636.30L1001.0,636.43L1003.0,636.56L1005.0,636.68L1007.0,636.80L1009.0,636.91L1011.0,637.02L1013.0,637.12L1015.0,637.22L1017.0,637.32L1019.0,637.41L1021.0,637.50L1023.0,637.59L1025.0,637.67L1027.0,637.75L1029.0,637.83L1031.0,637.90L1033.0,637.97L1035.0,638.04L1037.0,638.10L1039.0,638.16L1041.0,638.22L1043.0,638.28L1045.0,638.33L1047.0,638.38L1049.0,638.43L1051.0,638.48L1053.0,638.53L1053.0,639.55Z" fill="#365C8D" shape-rendering="crispEdges"/>
<line x1="692.7"  y1="639.05" x2="1053" y2="639.05" stroke="#365C8D" stroke-width="1.3"/>
<path d="M645.6,697.11L645.6,695.94L647.6,695.91L649.6,695.88L651.6,695.85L653.6,695.81L655.6,695.78L657.6,695.75L659.6,695.71L661.6,695.68L663.6,695.64L665.6,695.60L667.6,695.57L669.6,695.53L671.6,695.49L673.6,695.45L675.6,695.41L677.6,695.36L679.6,695.32L681.6,695.28L683.6,695.23L685.6,695.18L687.6,695.14L689.6,695.09L691.7,695.04L693.7,694.99L695.7,694.94L697.7,694.88L699.7,694.83L701.7,694.78L703.7,694.72L705.7,694.66L707.7,694.60L709.7,694.54L711.7,694.48L713.7,694.42L715.7,694.36L717.7,694.30L719.7,694.23L721.7,694.16L723.7,694.10L725.7,694.03L727.7,693.96L729.7,693.89L731.7,693.81L733.7,693.74L735.7,693.66L737.7,693.59L739.7,693.51L741.7,693.43L743.7,693.35L745.7,693.27L747.7,693.19L749.7,693.11L751.7,693.02L753.7,692.94L755.7,692.85L757.7,692.76L759.7,692.67L761.7,692.58L763.7,692.49L765.7,692.40L767.7,692.31L769.7,692.21L771.7,692.12L773.7,692.02L775.7,691.92L777.7,691.83L779.8,691.73L781.8,691.63L783.8,691.53L785.8,691.43L787.8,691.33L789.8,691.22L791.8,691.12L793.8,691.02L795.8,690.91L797.8,690.81L799.8,690.71L801.8,690.60L803.8,690.50L805.8,690.39L807.8,690.29L809.8,690.18L811.8,690.08L813.8,689.97L815.8,689.87L817.8,689.76L819.8,689.66L821.8,689.56L823.8,689.46L825.8,689.35L827.8,689.25L829.8,689.15L831.8,689.05L833.8,688.95L835.8,688.85L837.8,688.76L839.8,688.66L841.8,688.57L843.8,688.47L845.8,688.38L847.8,688.29L849.8,688.21L851.8,688.12L853.8,688.03L855.8,687.95L857.8,687.87L859.8,687.79L861.8,687.72L863.8,687.64L865.8,687.57L867.8,687.50L869.9,687.43L871.9,687.37L873.9,687.31L875.9,687.25L877.9,687.19L879.9,687.14L881.9,687.09L883.9,687.04L885.9,687.00L887.9,686.95L889.9,686.92L891.9,686.88L893.9,686.85L895.9,686.82L897.9,686.79L899.9,686.77L901.9,686.75L903.9,686.74L905.9,686.73L907.9,686.72L909.9,686.71L911.9,686.71L913.9,686.71L915.9,686.72L917.9,686.73L919.9,686.74L921.9,686.76L923.9,686.78L925.9,686.80L927.9,686.83L929.9,686.86L931.9,686.90L933.9,686.93L935.9,686.98L937.9,687.02L939.9,687.07L941.9,687.12L943.9,687.18L945.9,687.24L947.9,687.30L949.9,687.37L951.9,687.43L953.9,687.50L955.9,687.58L957.9,687.65L960.0,687.73L962.0,687.81L964.0,687.90L966.0,687.98L968.0,688.07L970.0,688.16L972.0,688.25L974.0,688.35L976.0,688.44L978.0,688.54L980.0,688.64L982.0,688.74L984.0,688.84L986.0,688.95L988.0,689.05L990.0,689.16L992.0,689.26L994.0,689.37L996.0,689.48L998.0,689.59L1000.0,689.70L1002.0,689.81L1004.0,689.92L1006.0,690.03L1008.0,690.14L1010.0,690.25L1012.0,690.36L1014.0,690.47L1016.0,690.58L1018.0,690.69L1020.0,690.80L1022.0,690.91L1024.0,691.02L1026.0,691.13L1028.0,691.23L1030.0,691.34L1032.0,691.45L1034.0,691.56L1036.0,691.66L1038.0,691.77L1040.0,691.87L1042.0,691.97L1044.0,692.07L1046.0,692.17L1048.1,692.27L1050.1,692.37L1052.1,692.47L1054.1,692.57L1056.1,692.66L1058.1,692.76L1060.1,692.85L1062.1,692.94L1064.1,693.03L1066.1,693.12L1068.1,693.21L1070.1,693.29L1072.1,693.38L1074.1,693.46L1076.1,693.54L1078.1,693.63L1080.1,693.71L1082.1,693.78L1084.1,693.86L1086.1,693.94L1088.1,694.01L1090.1,694.08L1092.1,694.16L1094.1,694.23L1096.1,694.29L1098.1,694.36L1100.1,694.43L1102.1,694.49L1104.1,694.56L1106.1,694.62L1108.1,694.68L1110.1,694.74L1112.1,694.80L1114.1,694.86L1116.1,694.91L1118.1,694.97L1120.1,695.02L1122.1,695.07L1124.1,695.13L1126.1,695.18L1128.1,695.22L1130.1,695.27L1132.1,695.32L1134.1,695.37L1136.1,695.41L1138.2,695.45L1140.2,695.50L1142.2,695.54L1144.2,695.58L1146.2,695.62L1148.2,695.66L1150.2,695.70L1152.2,695.73L1154.2,695.77L1156.2,695.80L1158.2,695.84L1160.2,695.87L1162.2,695.90L1164.2,695.94L1166.2,695.97L1168.2,696.00L1170.2,696.03L1172.2,696.05L1174.2,696.08L1176.2,696.11L1178.2,696.14L1180.2,696.16L1182.2,696.19L1182.2,697.11Z" fill="#3F4889" shape-rendering="crispEdges"/>
<line x1="645.6"  y1="696.61" x2="1182.2" y2="696.61" stroke="#3F4889" stroke-width="1.3"/>
<path d="M757.4,754.67L757.4,754.57L759.4,754.55L761.4,754.53L763.4,754.50L765.4,754.47L767.4,754.44L769.4,754.41L771.4,754.37L773.5,754.33L775.5,754.29L777.5,754.24L779.5,754.20L781.5,754.15L783.5,754.11L785.5,754.06L787.5,754.01L789.5,753.95L791.5,753.89L793.5,753.82L795.5,753.75L797.5,753.68L799.5,753.61L801.5,753.53L803.6,753.45L805.6,753.36L807.6,753.28L809.6,753.19L811.6,753.10L813.6,753.00L815.6,752.91L817.6,752.80L819.6,752.70L821.6,752.59L823.6,752.48L825.6,752.36L827.6,752.24L829.6,752.12L831.7,751.99L833.7,751.86L835.7,751.73L837.7,751.59L839.7,751.45L841.7,751.31L843.7,751.17L845.7,751.02L847.7,750.86L849.7,750.70L851.7,750.52L853.7,750.34L855.7,750.15L857.7,749.96L859.7,749.76L861.8,749.56L863.8,749.36L865.8,749.15L867.8,748.94L869.8,748.74L871.8,748.53L873.8,748.33L875.8,748.13L877.8,747.94L879.8,747.75L881.8,747.57L883.8,747.39L885.8,747.21L887.8,747.03L889.8,746.85L891.9,746.67L893.9,746.50L895.9,746.32L897.9,746.15L899.9,745.97L901.9,745.80L903.9,745.63L905.9,745.46L907.9,745.30L909.9,745.14L911.9,744.98L913.9,744.82L915.9,744.67L917.9,744.52L919.9,744.37L922.0,744.23L924.0,744.09L926.0,743.94L928.0,743.80L930.0,743.66L932.0,743.52L934.0,743.38L936.0,743.25L938.0,743.11L940.0,742.99L942.0,742.86L944.0,742.75L946.0,742.63L948.0,742.53L950.1,742.43L952.1,742.33L954.1,742.25L956.1,742.17L958.1,742.11L960.1,742.06L962.1,742.01L964.1,741.96L966.1,741.91L968.1,741.85L970.1,741.79L972.1,741.71L974.1,741.62L976.1,741.47L978.1,741.19L980.2,740.85L982.2,740.57L984.2,740.47L986.2,740.47L988.2,740.47L990.2,740.47L992.2,740.47L994.2,740.47L996.2,740.47L998.2,740.47L1000.2,740.47L1002.2,740.52L1004.2,740.76L1006.2,741.09L1008.2,741.40L1010.3,741.58L1012.3,741.67L1014.3,741.75L1016.3,741.82L1018.3,741.87L1020.3,741.92L1022.3,741.96L1024.3,742.00L1026.3,742.04L1028.3,742.08L1030.3,742.13L1032.3,742.18L1034.3,742.25L1036.3,742.32L1038.3,742.40L1040.4,742.48L1042.4,742.56L1044.4,742.65L1046.4,742.74L1048.4,742.84L1050.4,742.94L1052.4,743.04L1054.4,743.14L1056.4,743.25L1058.4,743.36L1060.4,743.48L1062.4,743.59L1064.4,743.71L1066.4,743.83L1068.5,743.95L1070.5,744.08L1072.5,744.21L1074.5,744.34L1076.5,744.47L1078.5,744.61L1080.5,744.75L1082.5,744.90L1084.5,745.06L1086.5,745.22L1088.5,745.38L1090.5,745.55L1092.5,745.73L1094.5,745.90L1096.5,746.08L1098.6,746.26L1100.6,746.44L1102.6,746.62L1104.6,746.81L1106.6,746.99L1108.6,747.17L1110.6,747.35L1112.6,747.53L1114.6,747.72L1116.6,747.90L1118.6,748.09L1120.6,748.29L1122.6,748.49L1124.6,748.69L1126.6,748.89L1128.7,749.09L1130.7,749.30L1132.7,749.50L1134.7,749.70L1136.7,749.90L1138.7,750.09L1140.7,750.28L1142.7,750.46L1144.7,750.64L1146.7,750.81L1148.7,750.97L1150.7,751.13L1152.7,751.28L1154.7,751.42L1156.7,751.57L1158.8,751.71L1160.8,751.85L1162.8,751.99L1164.8,752.12L1166.8,752.25L1168.8,752.38L1170.8,752.50L1172.8,752.62L1174.8,752.73L1176.8,752.85L1178.8,752.96L1180.8,753.06L1182.8,753.16L1184.8,753.26L1186.9,753.36L1188.9,753.45L1190.9,753.54L1192.9,753.63L1194.9,753.72L1196.9,753.80L1198.9,753.88L1200.9,753.95L1202.9,754.01L1204.9,754.07L1206.9,754.12L1208.9,754.17L1210.9,754.22L1212.9,754.27L1214.9,754.32L1217.0,754.36L1219.0,754.40L1221.0,754.44L1223.0,754.47L1225.0,754.50L1227.0,754.53L1229.0,754.55L1231.0,754.57L1231.0,754.67Z" fill="#46337E" shape-rendering="crispEdges"/>
<line x1="757.4"  y1="754.17" x2="1231" y2="754.17" stroke="#46337E" stroke-width="1.3"/>
<path d="M859.4,812.23L859.4,812.13L861.4,812.13L863.4,812.12L865.4,812.11L867.4,812.09L869.5,812.07L871.5,812.05L873.5,812.02L875.5,811.99L877.5,811.95L879.5,811.91L881.5,811.86L883.5,811.81L885.5,811.75L887.5,811.68L889.6,811.55L891.6,811.37L893.6,811.13L895.6,810.87L897.6,810.58L899.6,810.19L901.6,809.72L903.6,809.16L905.6,808.55L907.6,807.88L909.7,807.10L911.7,806.19L913.7,805.16L915.7,804.04L917.7,802.84L919.7,801.58L921.7,800.29L923.7,798.98L925.7,797.54L927.8,795.97L929.8,794.31L931.8,792.61L933.8,790.89L935.8,789.20L937.8,787.59L939.8,786.06L941.8,784.52L943.8,782.96L945.8,781.42L947.9,779.94L949.9,778.55L951.9,777.28L953.9,776.18L955.9,775.22L957.9,774.30L959.9,773.48L961.9,772.81L963.9,772.34L966.0,772.01L968.0,771.75L970.0,771.63L972.0,771.79L974.0,772.21L976.0,772.73L978.0,773.39L980.0,774.28L982.0,775.32L984.0,776.46L986.1,777.64L988.1,778.91L990.1,780.32L992.1,781.84L994.1,783.43L996.1,785.05L998.1,786.69L1000.1,788.31L1002.1,789.89L1004.1,791.55L1006.2,793.28L1008.2,795.03L1010.2,796.75L1012.2,798.39L1014.2,799.91L1016.2,801.26L1018.2,802.42L1020.2,803.54L1022.2,804.60L1024.3,805.60L1026.3,806.52L1028.3,807.35L1030.3,808.06L1032.3,808.65L1034.3,809.15L1036.3,809.62L1038.3,810.05L1040.3,810.44L1042.3,810.79L1044.4,811.07L1046.4,811.29L1048.4,811.43L1050.4,811.54L1052.4,811.63L1054.4,811.72L1056.4,811.80L1058.4,811.87L1060.4,811.94L1062.4,812.00L1064.5,812.04L1066.5,812.08L1068.5,812.11L1070.5,812.12L1072.5,812.13L1072.5,812.23Z" fill="#481B6D" shape-rendering="crispEdges"/>
<line x1="859.4"  y1="811.73" x2="1072.5" y2="811.73" stroke="#481B6D" stroke-width="1.3"/>
<path d="M886.3,869.79L886.3,869.69L888.3,869.49L890.3,869.21L892.3,868.86L894.3,868.45L896.4,867.99L898.4,867.50L900.4,866.92L902.4,866.26L904.4,865.51L906.4,864.67L908.4,863.73L910.4,862.70L912.4,861.56L914.5,860.32L916.5,858.75L918.5,856.70L920.5,854.31L922.5,851.72L924.5,849.09L926.5,846.55L928.5,844.10L930.5,841.56L932.6,838.98L934.6,836.39L936.6,833.86L938.6,831.42L940.6,829.06L942.6,826.66L944.6,824.44L946.6,822.64L948.6,821.21L950.7,819.99L952.7,819.10L954.7,818.48L956.7,818.19L958.7,819.07L960.7,820.54L962.7,822.53L964.7,824.44L966.7,826.14L968.8,827.76L970.8,829.35L972.8,831.00L974.8,832.76L976.8,834.69L978.8,836.92L980.8,839.37L982.8,841.94L984.8,844.52L986.9,847.00L988.9,849.26L990.9,851.41L992.9,853.55L994.9,855.63L996.9,857.56L998.9,859.28L1000.9,860.72L1002.9,861.92L1005.0,863.02L1007.0,864.01L1009.0,864.90L1011.0,865.68L1013.0,866.34L1015.0,866.90L1017.0,867.38L1019.0,867.81L1021.0,868.18L1023.1,868.54L1025.1,868.87L1027.1,869.18L1029.1,869.45L1031.1,869.69L1031.1,869.79Z" fill="#440154" shape-rendering="crispEdges"/>
<line x1="886.3"  y1="869.29" x2="1031.1" y2="869.29" stroke="#440154" stroke-width="1.3"/>
</g>
<g stroke="#000" stroke-width="2.5" fill="#000">
<line x1="743.2" y1="64.25" x2="1115.8" y2="64.25"/>
<circle cx="928.2" cy="64.25" r="5.2" stroke="none"/>
<line x1="925.9" y1="122.01" x2="1189.6" y2="122.01"/>
<circle cx="1057.3" cy="122.01" r="5.2" stroke="none"/>
<line x1="750.1" y1="179.87" x2="1045.5" y2="179.87"/>
<circle cx="897.5" cy="179.87" r="5.2" stroke="none"/>
<line x1="864.4" y1="236.93" x2="1230.4" y2="236.93"/>
<circle cx="1049.3" cy="236.93" r="5.2" stroke="none"/>
<line x1="691.8" y1="294.49" x2="1005.5" y2="294.49"/>
<circle cx="847.3" cy="294.49" r="5.2" stroke="none"/>
<line x1="767.9" y1="352.45" x2="1125.3" y2="352.45"/>
<circle cx="947.5" cy="352.45" r="5.2" stroke="none"/>
<line x1="676.4" y1="410.21" x2="1155.5" y2="410.21"/>
<circle cx="914.0" cy="410.21" r="5.2" stroke="none"/>
<line x1="693.4" y1="467.17" x2="1056.9" y2="467.17"/>
<circle cx="873.4" cy="467.17" r="5.2" stroke="none"/>
<line x1="783.2" y1="524.73" x2="1072.2" y2="524.73"/>
<circle cx="927.2" cy="524.73" r="5.2" stroke="none"/>
<line x1="762" y1="582.29" x2="1164.6" y2="582.29"/>
<circle cx="962.9" cy="582.29" r="5.2" stroke="none"/>
<line x1="716.3" y1="639.85" x2="1030.1" y2="639.85"/>
<circle cx="869.3" cy="639.85" r="5.2" stroke="none"/>
<line x1="677.5" y1="697.41" x2="1149.9" y2="697.41"/>
<circle cx="914.8" cy="697.41" r="5.2" stroke="none"/>
<line x1="812.8" y1="754.97" x2="1179.9" y2="754.97"/>
<circle cx="995.8" cy="754.97" r="5.2" stroke="none"/>
<line x1="906.8" y1="812.53" x2="1030.3" y2="812.53"/>
<circle cx="968.2" cy="812.53" r="5.2" stroke="none"/>
<line x1="907.1" y1="870.09" x2="1008" y2="870.09"/>
<circle cx="956.6" cy="870.09" r="5.2" stroke="none"/>
</g>
<path d="M308.0,905.5500000000001V6.95H1529.1" fill="none" stroke="#626262" stroke-width="1.7" stroke-linejoin="miter"/>
<path d="M307.15,904.45H1528.0V6.15" fill="none" stroke="#383838" stroke-width="2.3" stroke-linejoin="miter"/>
<g stroke="#333" stroke-width="2.5">
<line x1="299.3" y1="64.45" x2="308.0" y2="64.45"/>
<line x1="299.3" y1="122.21" x2="308.0" y2="122.21"/>
<line x1="299.3" y1="180.07" x2="308.0" y2="180.07"/>
<line x1="299.3" y1="237.13" x2="308.0" y2="237.13"/>
<line x1="299.3" y1="294.69" x2="308.0" y2="294.69"/>
<line x1="299.3" y1="352.65" x2="308.0" y2="352.65"/>
<line x1="299.3" y1="410.41" x2="308.0" y2="410.41"/>
<line x1="299.3" y1="467.37" x2="308.0" y2="467.37"/>
<line x1="299.3" y1="524.93" x2="308.0" y2="524.93"/>
<line x1="299.3" y1="582.49" x2="308.0" y2="582.49"/>
<line x1="299.3" y1="640.05" x2="308.0" y2="640.05"/>
<line x1="299.3" y1="697.61" x2="308.0" y2="697.61"/>
<line x1="299.3" y1="755.17" x2="308.0" y2="755.17"/>
<line x1="299.3" y1="812.73" x2="308.0" y2="812.73"/>
<line x1="299.3" y1="870.29" x2="308.0" y2="870.29"/>
<line x1="595.20" y1="904.45" x2="595.20" y2="912.2"/>
<line x1="895.00" y1="904.45" x2="895.00" y2="912.2"/>
<line x1="1193.40" y1="904.45" x2="1193.40" y2="912.2"/>
<line x1="1491.90" y1="904.45" x2="1491.90" y2="912.2"/>
</g>
<g fill="#000" stroke="#000" stroke-width="0.25">
<text x="293.90" y="76.15" text-anchor="end" font-size="30.8">Worry</text>
<text x="293.90" y="133.91" text-anchor="end" font-size="30.8">Self efficacy</text>
<text x="293.58" y="191.77" text-anchor="end" font-size="30.8" letter-spacing="-0.321">Self criticism</text>
<text x="293.90" y="248.83" text-anchor="end" font-size="30.8">Self concept</text>
<text x="293.90" y="306.39" text-anchor="end" font-size="30.8">Perceived difficulty</text>
<text x="293.90" y="364.35" text-anchor="end" font-size="30.8">Peaking under pressure</text>
<text x="293.90" y="422.11" text-anchor="end" font-size="30.8">NASA index</text>
<text x="293.90" y="479.07" text-anchor="end" font-size="30.8">Mood</text>
<text x="293.64" y="536.63" text-anchor="end" font-size="30.8" letter-spacing="-0.264">Mindfulness</text>
<text x="293.82" y="594.19" text-anchor="end" font-size="30.8" letter-spacing="-0.081">Mental toughness</text>
<text x="294.06" y="651.75" text-anchor="end" font-size="30.8" letter-spacing="0.162">Mental effort</text>
<text x="293.90" y="709.31" text-anchor="end" font-size="30.8">Hooper index</text>
<text x="293.74" y="766.87" text-anchor="end" font-size="30.8" letter-spacing="-0.157">Coping with adversity</text>
<text x="293.90" y="824.43" text-anchor="end" font-size="30.8">Confidence</text>
<text x="293.90" y="881.99" text-anchor="end" font-size="30.8">Anxiety</text>
<text transform="translate(594.90,940.7) scale(1,1.09)" text-anchor="middle" font-size="30.3">-2.5</text>
<text transform="translate(894.70,940.7) scale(1,1.09)" text-anchor="middle" font-size="30.3">0.0</text>
<text transform="translate(1193.10,940.7) scale(1,1.09)" text-anchor="middle" font-size="30.3">2.5</text>
<text transform="translate(1491.60,940.7) scale(1,1.09)" text-anchor="middle" font-size="30.3">5.0</text>
<text x="916.3" y="980.4" text-anchor="middle" font-size="35.9">Effect size (SMD)</text>
</g>
</svg>
</body></html>
